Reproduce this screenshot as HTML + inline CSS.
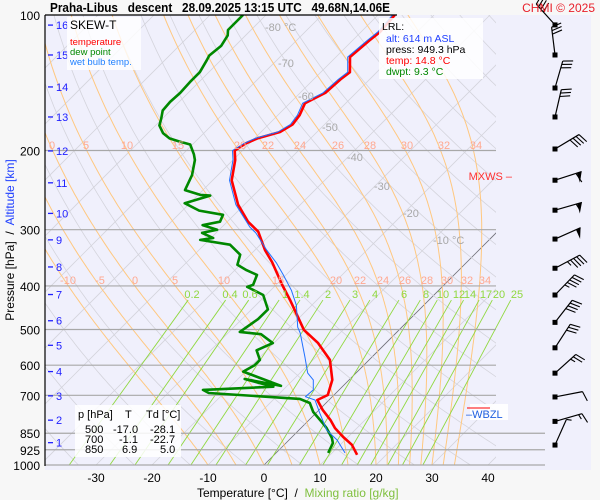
<!DOCTYPE html>
<html><head><meta charset="utf-8"><style>
html,body{margin:0;padding:0;background:#f7f7f7;}
svg{display:block;font-family:"Liberation Sans",sans-serif;}
</style></head><body>
<svg id="chart" width="600" height="500" viewBox="0 0 600 500" xmlns="http://www.w3.org/2000/svg">
<defs><clipPath id="plotclip"><rect x="45" y="15" width="451" height="450"/></clipPath>
<clipPath id="mixclip"><rect x="45" y="15" width="500" height="450"/></clipPath></defs>
<rect x="45" y="15" width="546" height="455" fill="#f0f0fc"/>
<g id="grid" clip-path="url(#plotclip)"></g>
<g id="mixg" clip-path="url(#mixclip)"></g>
<g id="isobars"></g>
<g id="profiles" clip-path="url(#plotclip)"></g>
<g id="labels"></g>
<g id="barbs"></g>
<line x1="45" y1="15" x2="45" y2="466" stroke="#000" stroke-width="1.2"/>
<line x1="45" y1="15" x2="397" y2="15" stroke="#000" stroke-width="1.2"/>
<text x="50" y="12" font-size="13" font-weight="bold" style="white-space:pre" textLength="340" lengthAdjust="spacingAndGlyphs">Praha-Libus   descent   28.09.2025 13:15 UTC   49.68N,14.06E</text>
<text x="595" y="12" font-size="12" fill="#e8202a" text-anchor="end">CHMI © 2025</text>
<g>
<rect x="67" y="17" width="74" height="53" fill="#ffffff" opacity="0.8"/>
<text x="70" y="29" font-size="12" fill="#000">SKEW-T</text>
<text x="70" y="45" font-size="9.5" fill="#ff0000">temperature</text>
<text x="70" y="55" font-size="9.5" fill="#008800">dew point</text>
<text x="70" y="65" font-size="9.5" fill="#2080ff">wet bulb temp.</text>
</g>
<g>
<rect x="379" y="18" width="104" height="61" fill="#ffffff" opacity="0.85"/>
<text x="382" y="30" font-size="10.5">LRL:</text>
<text x="386" y="42" font-size="10.5" fill="#2040ff">alt: 614 m ASL</text>
<text x="386" y="53" font-size="10.5">press: 949.3 hPa</text>
<text x="386" y="64" font-size="10.5" fill="#ff0000">temp: 14.8 °C</text>
<text x="386" y="75" font-size="10.5" fill="#008800">dwpt: 9.3 °C</text>
</g>
<g font-size="11">
<rect x="75" y="405" width="106" height="52" fill="#ffffff" opacity="0.85"/>
<text x="78" y="418">p [hPa]</text><text x="125" y="418">T</text><text x="146" y="418">Td [°C]</text>
<text x="85" y="433">500</text><text x="113" y="433">-17.0</text><text x="150" y="433">-28.1</text>
<text x="85" y="443">700</text><text x="119" y="443">-1.1</text><text x="150" y="443">-22.7</text>
<text x="85" y="453">850</text><text x="122" y="453">6.9</text><text x="160" y="453">5.0</text>
</g>
<text x="14" y="240" font-size="12" transform="rotate(-90 14 240)" text-anchor="middle" style="white-space:pre">Pressure [hPa]  /  <tspan fill="#2040ff">Altitude [km]</tspan></text>
<text x="197" y="497" font-size="12" style="white-space:pre">Temperature [°C]  /  <tspan fill="#80c040">Mixing ratio [g/kg]</tspan></text>
<text x="512" y="180" font-size="11" fill="#ff3030" text-anchor="end">MXWS –</text>
<rect x="470" y="404" width="38" height="16" fill="#ffffff" opacity="0.9"/>
<line x1="467" y1="408" x2="490" y2="408" stroke="#ff0000" stroke-width="1"/>
<text x="466" y="418" font-size="11" fill="#2060e0">–WBZL</text>
<script>
const presLevels=[200,300,400,500,600,700,850,925,1000];
const tempTicks=[-30,-20,-10,0,10,20,30,40];
const altKm=[16,15,14,13,12,11,10,9,8,7,6,5,4,3,2,1];
const altP=[105.3,122.7,144.5,168.5,200.5,236,276,316,363,418,478,542,620,702,795,892];
const mixRatios=[0.2,0.4,0.6,1,1.4,2,3,4,6,8,10,12,14,17,20,25];
const moistThetaW=[-10,-5,0,5,10,15,20,22,24,26,28,30,32,34];
const tempP=[949,902,866,828,794,755,717,699,647,584,536,501,464,430,398,354,333,303,288,264,233,210,200,193,188,182,175,167,157,153,149,139,134,124,114,109,100];
const tempT=[14.8,12.1,9.1,6.1,3.8,0.7,-2.1,-1.1,-3.0,-7.0,-12.1,-17.0,-20.9,-24.8,-28.9,-34.8,-38.2,-42.7,-46.3,-51.1,-56.6,-59.6,-61.4,-60.7,-59.5,-56.6,-55.7,-56.1,-57.3,-56.4,-55.5,-55.2,-54.8,-57.5,-57.0,-56.6,-57.0];
const dewP=[940,894,871,828,807,762,728,713,692,681,670,644,667,620,600,584,556,536,512,506,474,451,419,402,398,378,369,359,341,324,316,313,305,300,293,288,278,272,262,252,251,245,227,210,204,194,191,188,183,176,170,163,156,149,141,134,126,123,117,111,108,100];
const dewT=[9.3,8.4,7.3,4.6,3.0,-0.7,-2.9,-5.4,-22.7,-24.3,-12.3,-18.8,-11.1,-20.4,-19.5,-19.5,-21.8,-20.2,-23.9,-28.1,-27.1,-27.1,-30.5,-34.8,-34.1,-35.2,-37.9,-40.5,-41.8,-45.4,-51.6,-49.6,-52.5,-50.4,-53.8,-51.3,-52.0,-57.0,-60.9,-57.7,-59.6,-63.2,-64.6,-66.8,-68.0,-70.4,-72.9,-75.2,-77.3,-79.3,-80.2,-81.4,-81.6,-81.4,-81.6,-81.6,-82.5,-82.9,-82.5,-83.2,-84.1,-84.1];
const wbP=[940,880,837,767,717,705,681,647,625,575,509,494,442,409,378,356,333,305,296,264,233,210,200,193,188,182,175,167,157,153,149,139,134,124,114,109,100];
const wbT=[12.3,8.6,5.0,0.7,-2.5,-4.8,-4.6,-6.4,-8.6,-12.0,-17.1,-18.6,-22.7,-26.3,-30.5,-33.8,-37.9,-42.9,-45.0,-51.5,-57.0,-60.0,-61.8,-61.0,-59.9,-57.0,-56.1,-56.5,-57.7,-56.8,-55.9,-55.6,-55.2,-57.9,-57.4,-57.0,-57.4];
const windP=[105.2,122.7,145.3,168.5,198.5,232.9,271.5,314.7,365.4,419,482,549,625,706,800,903];
const windAng=[-132,-97,-74,-77,-31,-18,-16,-24,-28,-46,-52,-57,-42,-11,-16,-66];
const windKt=[40,30,30,30,40,60,55,50,45,45,40,30,25,10,15,5];

const NS="http://www.w3.org/2000/svg";
function yP(p){return 15+450*Math.log10(p/100);}
function xT(T,p){return 264+5.6*T+(465-yP(p))*1.0;}
function mk(tag,attrs,parent){const e=document.createElementNS(NS,tag);for(const k in attrs)e.setAttribute(k,attrs[k]);parent.appendChild(e);return e;}
function pathFrom(pts){return pts.map((q,i)=>(i?'L':'M')+q[0].toFixed(1)+' '+q[1].toFixed(1)).join(' ');}
const grid=document.getElementById('grid');
const mixg=document.getElementById('mixg');
const iso=document.getElementById('isobars');
const prof=document.getElementById('profiles');
const lab=document.getElementById('labels');
const barbs=document.getElementById('barbs');

for(let T=-150;T<=50;T+=10){
  const l=mk('line',{x1:xT(T,1000),y1:yP(1000),x2:xT(T,100),y2:yP(100),stroke:T===0?'#707078':'#d4d4dc','stroke-width':0.8},grid);
  
  
}
for(let th=200;th<=500;th+=10){
  const pts=[];for(let p=1000;p>=100;p-=10){pts.push([xT(th*Math.pow(p/1000,0.286)-273.15,p),yP(p)]);}
  const e=mk('path',{d:pathFrom(pts),fill:'none',stroke:'#d4d4dc','stroke-width':0.8},grid);
  
  
}
function es(Tc){return 6.112*Math.exp(17.67*Tc/(Tc+243.5));}
moistThetaW.forEach(tw=>{
  let T=tw+273.15;const pts=[];
  for(let p=1000;p>=100;p-=5){
    pts.push([xT(T-273.15,p),yP(p)]);
    const e=es(T-273.15);const rs=0.622*e/(p-e);
    const num=(287*T+2.5e6*rs)/p;const den=1004+(2.5e6*2.5e6*rs*0.622)/(287*T*T);
    T-=5*num/den;
  }
  const e=mk('path',{d:pathFrom(pts),fill:'none',stroke:'#ffc880','stroke-width':1},grid);
  
  
});
function tdFromW(w,p){const e=w*p/(622+w);const l=Math.log(e/6.112);return 243.5*l/(17.67-l);}
mixRatios.forEach(w=>{
  const e=mk('line',{x1:xT(tdFromW(w,1000),1000),y1:yP(1000),x2:xT(tdFromW(w,430),430),y2:yP(430),stroke:'#90d840','stroke-width':0.9},mixg);
  
  
});
presLevels.forEach(p=>{
  const e=mk('line',{x1:45,y1:yP(p),x2:p>=850?545:496,y2:yP(p),stroke:'#a8a8a8','stroke-width':1.2},iso);
  
  
  const t=mk('text',{x:40,y:yP(p)+5,'font-size':12,'text-anchor':'end'},lab);t.textContent=String(p);
  
  
});
{const t=mk('text',{x:40,y:20,'font-size':12,'text-anchor':'end'},lab);t.textContent='100';

}
tempTicks.forEach(T=>{
  const t=mk('text',{x:xT(T,1000),y:482,'font-size':12,'text-anchor':'middle'},lab);t.textContent=String(T);
  
  
});
altKm.forEach((k,i)=>{
  const y=yP(altP[i]);
  const l=mk('line',{x1:48,y1:y,x2:53,y2:y,stroke:'#2020ff','stroke-width':1.3},lab);
  
  
  const t=mk('text',{x:56,y:y+4,'font-size':11,fill:'#2020ff'},lab);t.textContent=String(k);
  
  
});
const isoLab=[['-80 °C',265,31],['-70',278,67],['-60',298,100],['-50',322,131],['-40',347,161],['-30',374,190],['-20',403,217],['-10 °C',433,244]];
isoLab.forEach(a=>{const t=mk('text',{x:a[1],y:a[2],'font-size':11,fill:'#a8a8a8'},lab);t.textContent=a[0];

});
const mLow=[68,100,135,175,224,278,336,360,383,405,427,447,467,485];
moistThetaW.forEach((v,i)=>{const t=mk('text',{x:mLow[i],y:284,'font-size':11,fill:'#ffa890','text-anchor':'middle'},lab);t.textContent=String(v);

});
const topVals=[0,5,10,15,20,22,24,26,28,30,32,34];const topX=[52,86,127,178,240,268,300,338,370,407,444,476];
topVals.forEach((v,i)=>{const t=mk('text',{x:topX[i],y:149,'font-size':11,fill:'#ffa890','text-anchor':'middle'},lab);t.textContent=String(v);

});
const mixX=[192,230,250,285,302,328,355,375,404,426,443,459,470,486,499,517];
mixRatios.forEach((w,i)=>{const t=mk('text',{x:mixX[i],y:298,'font-size':11,fill:'#90d840','text-anchor':'middle'},lab);t.textContent=String(w);

});
function profile(P,T,color,w,name){
  const pts=P.map((p,i)=>[xT(T[i],p),yP(p)]);
  const e=mk('path',{d:pathFrom(pts),fill:'none',stroke:color,'stroke-width':w,'stroke-linejoin':'round'},prof);
  
  
}
profile(dewP,dewT,'#008800',2.6,'dew-point-line');
profile(tempP,tempT,'#ff0000',2.6,'temperature-line');
profile(wbP,wbT,'#2070ff',1,'wet-bulb-line');
windP.forEach((p,i)=>{
  const x0=555,y0=yP(p);const a=windAng[i]*Math.PI/180;const L=28;
  const tx=x0+L*Math.cos(a),ty=y0+L*Math.sin(a);
  const g=mk('g',{},barbs);
  
  
  mk('line',{x1:x0,y1:y0,x2:tx,y2:ty,stroke:'#000','stroke-width':1.2},g);
  mk('rect',{x:x0-2.5,y:y0-2.5,width:5,height:5,fill:'#000'},g);
  let s=windKt[i];let d=0;const ux=Math.cos(a),uy=Math.sin(a);const px=-uy,py=ux;
  while(s>=50){const bx=tx-ux*d,by=ty-uy*d;mk('polygon',{points:`${bx},${by} ${bx-ux*5+px*10},${by-uy*5+py*10} ${bx-ux*5},${by-uy*5}`,fill:'#000'},g);s-=50;d+=6;}
  while(s>=10){const bx=tx-ux*d,by=ty-uy*d;mk('line',{x1:bx,y1:by,x2:bx+ux*3+px*10,y2:by+uy*3+py*10,stroke:'#000','stroke-width':1.1},g);s-=10;d+=3.5;}
  if(s>=5){const bx=tx-ux*d,by=ty-uy*d;mk('line',{x1:bx,y1:by,x2:bx+ux*1.5+px*5,y2:by+uy*1.5+py*5,stroke:'#000','stroke-width':1.1},g);}
});
</script>
</svg>
</body></html>
